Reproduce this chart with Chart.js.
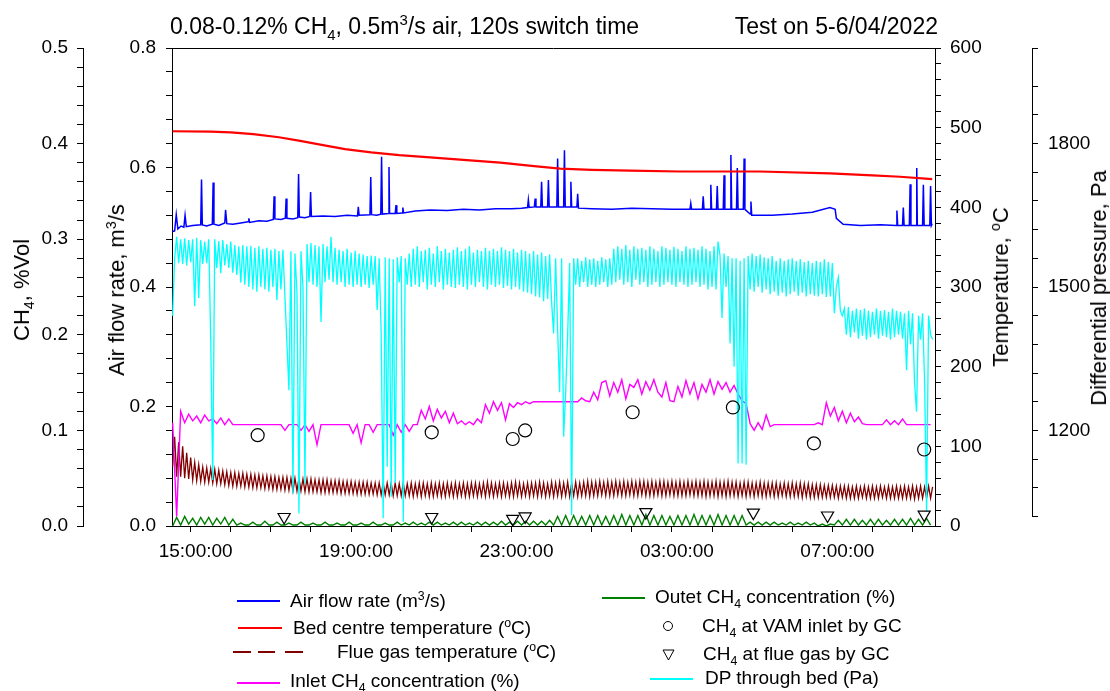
<!DOCTYPE html>
<html><head><meta charset="utf-8">
<script src="https://cdn.jsdelivr.net/npm/chart.js@4.4.1/dist/chart.umd.min.js"></script>
<style>
html,body{margin:0;padding:0;background:#fff;}
#wrap{position:relative;width:1110px;height:691px;font-family:"Liberation Sans",Arial,sans-serif;color:#000;overflow:hidden;}
canvas{position:absolute;left:0;top:0;}
.t{position:absolute;white-space:nowrap;line-height:22px;font-size:19px;}
.tt{position:absolute;white-space:nowrap;line-height:26px;font-size:23px;}
sub,sup{font-size:0.65em;line-height:0;}
.rot{position:absolute;white-space:nowrap;font-size:22px;line-height:26px;transform:translate(-50%,-50%) rotate(-90deg);}
.ln{position:absolute;height:2px;}
</style></head>
<body><div id="wrap">
<canvas id="c" width="1110" height="691"></canvas>
<div class="tt" style="left:170px;top:13px;">0.08-0.12% CH<sub>4</sub>, 0.5m<sup>3</sup>/s air, 120s switch time</div>
<div class="tt" style="right:172px;top:13px;">Test on 5-6/04/2022</div>
<div class="rot" style="left:22px;top:290px;">CH<sub>4</sub>, %Vol</div>
<div class="rot" style="left:117px;top:290px;">Air flow rate, m<sup>3</sup>/s</div>
<div class="rot" style="left:1001px;top:287px;">Temperature, <sup>o</sup>C</div>
<div class="rot" style="left:1099px;top:288px;">Differential pressure, Pa</div>

<div class="ln" style="left:237px;top:600px;width:43px;background:#0000ff;"></div>
<div class="t" style="left:290px;top:590px;">Air flow rate (m<sup>3</sup>/s)</div>
<div class="ln" style="left:238px;top:627px;width:44px;background:#ff0000;"></div>
<div class="t" style="left:293px;top:617px;">Bed centre temperature (<sup>o</sup>C)</div>
<div class="ln" style="left:233px;top:651px;width:18px;background:#800000;"></div>
<div class="ln" style="left:258px;top:651px;width:17px;background:#800000;"></div>
<div class="ln" style="left:285px;top:651px;width:18px;background:#800000;"></div>
<div class="t" style="left:337px;top:641px;">Flue gas temperature (<sup>o</sup>C)</div>
<div class="ln" style="left:237px;top:682px;width:43px;background:#ff00ff;"></div>
<div class="t" style="left:290px;top:670px;">Inlet CH<sub>4</sub> concentration (%)</div>

<div class="ln" style="left:602px;top:597px;width:43px;background:#008000;"></div>
<div class="t" style="left:655px;top:586px;">Outet CH<sub>4</sub> concentration (%)</div>
<div style="position:absolute;left:663px;top:621px;width:10px;height:10px;border:1px solid #000;border-radius:50%;box-sizing:border-box;"></div>
<div class="t" style="left:702px;top:615px;">CH<sub>4</sub> at VAM inlet by GC</div>
<svg style="position:absolute;left:662px;top:649px;" width="13" height="12"><polygon points="1,1 12,1 6.5,11" fill="none" stroke="#000" stroke-width="1"/></svg>
<div class="t" style="left:703px;top:643px;">CH<sub>4</sub> at flue gas by GC</div>
<div class="ln" style="left:650px;top:678px;width:43px;background:#00ffff;"></div>
<div class="t" style="left:705px;top:667px;">DP through bed (Pa)</div>
</div>
<script>
// ---------- data ----------
// Hour-of-day axis (hours since 00:00 on 5/04; 24+ = next day)
const timeMin = 14.534, timeMax = 33.56;
const timeMinorHours = [15,16,17,18,19,20,21,22,23,24,25,26,27,28,29,30,31,32,33];
const timeTickHours  = [15,19,23,27,31];
const timeTickLabels = ['15:00:00','19:00:00','23:00:00','03:00:00','07:00:00'];

const ch4TickValues  = [0,0.1,0.2,0.3,0.4,0.5];
const ch4TickLabels  = ['0.0','0.1','0.2','0.3','0.4','0.5'];
const airTickValues  = [0,0.2,0.4,0.6,0.8];
const airTickLabels  = ['0.0','0.2','0.4','0.6','0.8'];
const tempTickValues = [0,100,200,300,400,500,600];
const tempTickLabels = ['0','100','200','300','400','500','600'];
const dpTickValues   = [1200,1500,1800];
const dpTickLabels   = ['1200','1500','1800'];

// logged series: start hour and sampling interval (h)
const logStart = 14.55;
const fineStep = 0.05;   // DP and flue gas temperature
const coarseStep = 0.1;  // inlet / outlet CH4

// DP through bed (Pa), one row per hour
const dpValues = [
1440,1560,1605,1550,1600,1548,1602,1545,1598,1552,1600,1460,1603,1477,1598,1548,1595,1550,1600,1389,
1096,1600,1540,1596,1529,1598,1545,1590,1540,1595,1530,1588,1525,1585,1509,1588,1505,1585,1500,1586,
1495,1582,1490,1585,1500,1580,1495,1582,1490,1578,1500,1580,1473,1575,1495,1578,1480,1382,1284,1575,
1068,1570,1490,1026,1575,1500,1089,1590,1510,1592,1505,1588,1500,1585,1427,1590,1510,1585,1515,1605,
1510,1582,1505,1578,1510,1575,1500,1580,1505,1572,1500,1576,1505,1570,1500,1568,1505,1565,1498,1566,
1505,1565,1452,1560,1403,1016,1562,1124,1560,1061,1558,1090,1562,1510,1565,1009,1560,1505,1570,1500,
1580,1505,1585,1500,1575,1510,1578,1495,1582,1505,1570,1500,1585,1510,1575,1495,1580,1505,1572,1500,
1578,1498,1583,1505,1575,1500,1580,1495,1585,1505,1572,1500,1578,1510,1575,1500,1582,1495,1576,1505,
1580,1500,1575,1505,1583,1498,1578,1502,1575,1495,1580,1500,1572,1495,1578,1490,1575,1488,1570,1485,
1575,1480,1568,1478,1572,1470,1565,1475,1568,1468,1403,1560,1410,1280,1560,1187,1278,1400,1550,1023,
1560,1505,1560,1500,1555,1510,1562,1500,1558,1505,1560,1500,1555,1505,1562,1510,1558,1500,1560,1505,
1580,1510,1585,1515,1580,1505,1588,1510,1578,1500,1585,1515,1580,1505,1582,1510,1578,1500,1585,1505,
1580,1510,1575,1500,1585,1505,1582,1510,1578,1505,1584,1500,1580,1510,1575,1505,1585,1500,1580,1505,
1582,1510,1578,1500,1585,1505,1580,1495,1575,1500,1585,1495,1595,1565,1435,1570,1500,1565,1382,1560,
1333,1560,1131,1555,1131,1560,1128,1565,1495,1570,1490,1565,1500,1568,1488,1562,1495,1560,1485,1565,
1490,1555,1482,1560,1488,1555,1480,1558,1485,1560,1490,1555,1482,1558,1488,1552,1480,1555,1485,1550,
1482,1555,1480,1552,1485,1558,1479,1552,1480,1550,1445,1500,1520,1450,1440,1455,1400,1458,1395,1450,
1405,1455,1392,1452,1398,1455,1390,1450,1395,1448,1400,1455,1392,1450,1398,1452,1395,1448,1390,1455,
1395,1450,1400,1448,1392,1445,1326,1450,1380,1445,1300,1239,1440,1390,1445,1305,1030,1440,1400,1390];

// Flue gas temperature (degC), one row per hour
const flueTempValues = [
75,112,62,105,62,100,60,92,59,86,58,80,57,77,56,74,55,73,55,72,
54,71,53,70,53,69,52,68,51,67,50,67,50,66,50,66,49,65,49,65,
48,64,48,64,48,63,47,63,47,62,46,62,46,61,46,61,45,61,45,60,
44,60,44,60,44,59,43,59,43,59,43,58,43,58,42,58,42,58,42,57,
42,57,42,57,41,56,41,56,41,56,41,55,40,55,40,55,40,55,40,54,
40,54,39,54,39,54,39,54,39,54,38,54,38,53,38,54,38,53,38,54,
37,53,38,54,37,54,38,53,37,54,37,53,38,54,37,53,37,54,38,53,
37,54,37,53,38,54,37,53,37,54,38,54,37,53,38,54,37,55,38,54,
37,53,38,54,37,54,38,53,37,54,37,55,38,54,37,53,38,54,37,54,
38,54,37,55,38,54,37,53,38,55,37,54,38,55,37,54,38,55,37,54,
38,55,37,54,38,55,38,56,37,55,38,55,38,56,39,55,38,56,38,55,
38,56,39,55,38,56,38,55,39,56,38,55,38,56,39,56,38,55,38,56,
38,55,39,56,38,56,38,55,39,56,38,55,38,56,38,55,38,56,39,55,
38,56,38,55,38,56,37,55,38,55,38,56,37,55,38,55,37,56,38,55,
38,55,37,54,38,55,37,55,38,54,37,54,38,55,37,54,37,54,38,54,
37,54,37,53,38,54,37,53,37,54,37,53,37,54,36,53,37,53,36,52,
36,52,36,52,36,51,36,51,36,51,36,50,35,50,36,50,35,50,35,49,
35,50,35,49,36,50,35,49,35,50,35,49,35,50,36,49,35,50,35,49,
35,50,35,49,35,50,35,49,35,50,34,49,35,50,35,49,35,50,35,49];

// Outlet CH4 concentration (%)
const outletCH4Values = [
0.000,0.009,0.001,0.010,0.002,0.008,0.001,0.009,0.002,0.009,
0.001,0.008,0.002,0.009,0.001,0.007,0.001,0.003,0.001,0.001,
0.004,0.001,0.001,0.005,0.001,0.001,0.004,0.001,0.001,0.003,
0.001,0.001,0.004,0.001,0.001,0.003,0.001,0.001,0.004,0.001,
0.001,0.003,0.001,0.001,0.004,0.001,0.001,0.003,0.001,0.001,
0.004,0.001,0.001,0.003,0.001,0.001,0.004,0.001,0.003,0.001,
0.004,0.001,0.003,0.001,0.004,0.001,0.004,0.001,0.003,0.001,
0.004,0.001,0.004,0.001,0.003,0.001,0.004,0.001,0.004,0.001,
0.004,0.001,0.005,0.001,0.004,0.001,0.005,0.001,0.005,0.001,
0.005,0.001,0.005,0.001,0.006,0.001,0.010,0.001,0.011,0.001,
0.011,0.001,0.010,0.001,0.011,0.001,0.011,0.001,0.010,0.001,
0.011,0.001,0.012,0.001,0.011,0.001,0.011,0.001,0.012,0.001,
0.011,0.001,0.011,0.001,0.010,0.001,0.011,0.001,0.011,0.001,
0.012,0.001,0.011,0.001,0.011,0.001,0.012,0.001,0.011,0.001,
0.011,0.001,0.011,0.001,0.004,0.001,0.004,0.001,0.004,0.001,
0.004,0.001,0.003,0.001,0.004,0.001,0.003,0.001,0.004,0.001,
0.003,0.000,0.002,0.000,0.002,0.001,0.006,0.001,0.007,0.001,
0.007,0.001,0.006,0.001,0.007,0.001,0.007,0.001,0.006,0.001,
0.007,0.001,0.007,0.001,0.008,0.001,0.007,0.001,0.008,0.001];

// Inlet CH4 concentration (%)
const inletCH4Values = [
0.108,0.010,0.120,0.108,0.117,0.110,0.115,0.108,0.116,0.110,
0.112,0.107,0.113,0.106,0.112,0.106,0.106,0.106,0.106,0.106,
0.106,0.106,0.106,0.106,0.106,0.106,0.106,0.106,0.100,0.106,
0.106,0.106,0.100,0.106,0.099,0.106,0.085,0.106,0.106,0.106,
0.106,0.106,0.106,0.106,0.106,0.097,0.106,0.087,0.106,0.106,
0.098,0.106,0.106,0.106,0.106,0.095,0.106,0.098,0.106,0.099,
0.106,0.106,0.121,0.112,0.125,0.110,0.122,0.113,0.120,0.108,
0.118,0.107,0.110,0.106,0.109,0.106,0.112,0.108,0.127,0.118,
0.130,0.121,0.129,0.111,0.128,0.124,0.129,0.127,0.130,0.128,
0.130,0.130,0.130,0.130,0.130,0.130,0.130,0.130,0.130,0.130,
0.130,0.130,0.134,0.131,0.130,0.140,0.132,0.150,0.152,0.136,
0.150,0.140,0.153,0.133,0.148,0.145,0.153,0.138,0.151,0.142,
0.153,0.140,0.135,0.150,0.131,0.130,0.146,0.135,0.152,0.138,
0.150,0.133,0.148,0.140,0.153,0.138,0.151,0.143,0.150,0.140,
0.147,0.138,0.131,0.128,0.107,0.100,0.108,0.101,0.116,0.104,
0.106,0.106,0.106,0.106,0.106,0.106,0.106,0.106,0.106,0.106,
0.106,0.108,0.106,0.129,0.115,0.124,0.110,0.120,0.108,0.118,
0.109,0.114,0.107,0.106,0.106,0.106,0.106,0.106,0.111,0.106,
0.110,0.106,0.112,0.106,0.106,0.106,0.106,0.106,0.106,0.106];

// Air flow rate (m3/s): [hour, value]
const airFlowData = [
[14.55,0.493],[14.60,0.494],[14.64,0.521],[14.68,0.497],[14.76,0.502],[14.83,0.500],[14.86,0.520],[14.89,0.501],
[15.05,0.503],[15.25,0.504],[15.27,0.580],[15.29,0.504],[15.40,0.502],[15.54,0.505],[15.56,0.575],[15.58,0.505],
[15.70,0.503],[15.85,0.507],[15.87,0.529],[15.90,0.506],[16.05,0.505],[16.25,0.507],[16.43,0.509],[16.45,0.515],
[16.47,0.508],[16.70,0.511],[16.90,0.510],[17.06,0.513],[17.08,0.552],[17.10,0.514],[17.25,0.513],[17.36,0.515],
[17.38,0.548],[17.40,0.515],[17.55,0.514],[17.67,0.516],[17.69,0.589],[17.71,0.517],[17.85,0.516],[17.97,0.518],
[17.99,0.559],[18.01,0.518],[18.30,0.519],[18.60,0.518],[18.90,0.520],[19.16,0.519],[19.18,0.534],[19.20,0.520],
[19.47,0.521],[19.49,0.584],[19.51,0.521],[19.64,0.520],[19.74,0.522],[19.76,0.618],[19.78,0.522],[19.93,0.523],
[19.945,0.601],[19.96,0.523],[20.10,0.523],[20.12,0.537],[20.14,0.523],[20.27,0.524],[20.29,0.533],[20.31,0.524],
[20.60,0.527],[20.97,0.529],[21.40,0.528],[21.80,0.530],[22.20,0.529],[22.60,0.531],[23.00,0.531],[23.25,0.532],
[23.40,0.533],[23.42,0.546],[23.44,0.533],[23.57,0.534],[23.59,0.548],[23.61,0.534],[23.73,0.534],[23.75,0.576],
[23.77,0.534],[23.90,0.534],[23.92,0.579],[23.94,0.534],[24.13,0.534],[24.15,0.615],[24.17,0.534],[24.30,0.534],
[24.32,0.629],[24.34,0.534],[24.46,0.534],[24.48,0.576],[24.50,0.534],[24.63,0.534],[24.65,0.556],[24.67,0.532],
[25.00,0.531],[25.50,0.530],[26.00,0.532],[26.50,0.531],[27.00,0.530],[27.45,0.530],[27.47,0.540],[27.49,0.530],
[27.76,0.530],[27.78,0.552],[27.80,0.530],[27.95,0.530],[27.97,0.571],[27.99,0.530],[28.11,0.530],[28.13,0.569],
[28.15,0.530],[28.28,0.530],[28.30,0.587],[28.32,0.530],[28.45,0.530],[28.47,0.621],[28.49,0.530],[28.61,0.530],
[28.63,0.599],[28.65,0.530],[28.78,0.530],[28.80,0.615],[28.82,0.530],[28.95,0.522],[28.97,0.543],[28.99,0.520],
[29.50,0.520],[30.00,0.522],[30.50,0.525],[30.94,0.533],[31.07,0.530],[31.10,0.515],[31.27,0.505],[31.70,0.503],
[32.20,0.504],[32.59,0.503],[32.61,0.528],[32.63,0.503],[32.75,0.503],[32.77,0.533],[32.79,0.503],[32.92,0.503],
[32.94,0.572],[32.96,0.503],[33.09,0.503],[33.105,0.599],[33.12,0.503],[33.25,0.503],[33.27,0.571],[33.29,0.503],
[33.43,0.503],[33.45,0.569],[33.47,0.503],[33.49,0.506]];

// Bed centre temperature (degC): [hour, value]
const bedTempData = [
[14.55,495.5],[15.5,495],[16.0,494],[16.56,492],[17.2,488],[17.73,483.5],[18.3,478],[18.85,473],[19.5,469],
[20.2,465.5],[20.97,462.6],[21.8,459.5],[22.72,456],[23.5,452],[24.21,448.5],[25.0,447],[25.96,446],[27.2,445],
[29.19,445],[30.94,442.6],[32.0,440],[32.69,438.4],[33.49,435.5]];

// GC samples
const gcInletTime = [16.67,21.01,23.03,23.34,26.02,28.52,30.54,33.29];
const gcInletCH4  = [0.095,0.098,0.091,0.100,0.119,0.124,0.0865,0.080];
const gcFlueTime  = [17.33,21.01,23.03,23.34,26.35,29.03,30.88,33.29];
const gcFlueCH4   = [0.0094,0.0094,0.0075,0.0100,0.0145,0.0140,0.0110,0.0120];

// ---------- build ----------
const seqPts = (vals, step) => vals.map((v,i)=>({x: +(logStart + i*step).toFixed(3), y: v}));
const pairPts = arr => arr.map(([x,y])=>({x,y}));
const zipPts = (xs,ys) => xs.map((x,i)=>({x, y: ys[i]}));
function rangeTicks(min,max,step){const o=[];for(let k=0;min+k*step<=max+1e-9;k++)o.push({value:Math.round((min+k*step)*1e6)/1e6});return o;}
function labelFor(v, vals, labs){const k=vals.findIndex(t=>Math.abs(t-v)<1e-6);return k>=0?labs[k]:'';}

Chart.defaults.font.family = '"Liberation Sans", Arial, sans-serif';
Chart.defaults.font.size = 19;
Chart.defaults.color = '#000';

const gridOpt = {drawOnChartArea:false, drawTicks:true, tickLength:6, color:'#000', lineWidth:1};
const borderOpt = {display:true, color:'#000', width:1};

const frame = {
  id:'frame',
  afterDraw(chart){
    const {ctx, chartArea:a, scales} = chart;
    const dp = scales.yDP;
    ctx.save();
    ctx.strokeStyle='#000'; ctx.lineWidth=1;
    ctx.beginPath();
    ctx.moveTo(a.left, a.top+0.5); ctx.lineTo(a.right, a.top+0.5);
    const x = Math.round(dp.left)+0.5;
    ctx.moveTo(x, dp.getPixelForValue(2000)); ctx.lineTo(x, dp.getPixelForValue(1020));
    ctx.stroke();
    ctx.restore();
  }
};

new Chart(document.getElementById('c'), {
  type:'scatter',
  data:{datasets:[
    {label:'CH4 at VAM inlet by GC', data:zipPts(gcInletTime,gcInletCH4), yAxisID:'yCH4', showLine:false,
     pointStyle:'circle', pointRadius:6.5, borderColor:'#000', backgroundColor:'rgba(0,0,0,0)', borderWidth:1.2, order:0},
    {label:'CH4 at flue gas by GC', data:zipPts(gcFlueTime,gcFlueCH4), yAxisID:'yCH4', showLine:false,
     pointStyle:'triangle', rotation:180, pointRadius:7, borderColor:'#000', backgroundColor:'rgba(0,0,0,0)', borderWidth:1.2, order:1},
    {label:'Bed centre temperature', data:pairPts(bedTempData), yAxisID:'yTemp', showLine:true, pointRadius:0,
     borderColor:'#ff0000', borderWidth:2.2, order:2},
    {label:'DP through bed', data:seqPts(dpValues, fineStep), yAxisID:'yDP', showLine:true, pointRadius:0,
     borderColor:'#00ffff', borderWidth:1.3, order:3},
    {label:'Air flow rate', data:pairPts(airFlowData), yAxisID:'yAir', showLine:true, pointRadius:0,
     borderColor:'#0000ff', borderWidth:1.5, order:4},
    {label:'Inlet CH4 concentration', data:seqPts(inletCH4Values, coarseStep), yAxisID:'yCH4', showLine:true, pointRadius:0,
     borderColor:'#ff00ff', borderWidth:1.4, order:5},
    {label:'Flue gas temperature', data:seqPts(flueTempValues, fineStep), yAxisID:'yTemp', showLine:true, pointRadius:0,
     borderColor:'#800000', borderWidth:1.3, order:6},
    {label:'Outlet CH4 concentration', data:seqPts(outletCH4Values, coarseStep), yAxisID:'yCH4', showLine:true, pointRadius:0,
     borderColor:'#008000', borderWidth:1.4, order:7}
  ]},
  options:{
    responsive:false, animation:false, devicePixelRatio:1,
    layout:{padding:{top:48,bottom:125,left:0,right:0}},
    plugins:{legend:{display:false}, tooltip:{enabled:false}},
    scales:{
      x:{type:'linear', position:'bottom', min:timeMin, max:timeMax, bounds:'data',
        afterBuildTicks:s=>{s.ticks=timeMinorHours.map(v=>({value:v}));},
        ticks:{autoSkip:false, maxRotation:0, padding:8, labelOffset:5, callback:v=>labelFor(v,timeTickHours,timeTickLabels)},
        grid:gridOpt, border:borderOpt, afterFit:s=>{s.height=40;}},
      yAir:{type:'linear', position:'left', weight:0, min:0, max:0.8, bounds:'data',
        afterBuildTicks:s=>{s.ticks=rangeTicks(0,0.8,0.04);},
        ticks:{autoSkip:false, padding:10, callback:v=>labelFor(v,airTickValues,airTickLabels)},
        grid:gridOpt, border:borderOpt, afterFit:s=>{s.width=89;}},
      yCH4:{type:'linear', position:'left', weight:1, min:0, max:0.5, bounds:'data',
        afterBuildTicks:s=>{s.ticks=rangeTicks(0,0.5,0.02);},
        ticks:{autoSkip:false, padding:9, callback:v=>labelFor(v,ch4TickValues,ch4TickLabels)},
        grid:gridOpt, border:borderOpt, afterFit:s=>{s.width=83;}},
      yTemp:{type:'linear', position:'right', weight:0, min:0, max:600, bounds:'data',
        afterBuildTicks:s=>{s.ticks=rangeTicks(0,600,20);},
        ticks:{autoSkip:false, padding:9, callback:v=>labelFor(v,tempTickValues,tempTickLabels)},
        grid:gridOpt, border:borderOpt, afterFit:s=>{s.width=97;}},
      yDP:{type:'linear', position:'right', weight:1, min:1000, max:2000, bounds:'data',
        afterBuildTicks:s=>{s.ticks=rangeTicks(1020,1920,60).concat([{value:2000}]);},
        ticks:{autoSkip:false, padding:10, callback:v=>labelFor(v,dpTickValues,dpTickLabels)},
        grid:gridOpt, border:{display:false}, afterFit:s=>{s.width=78;}}
    }
  },
  plugins:[frame]
});
</script>
</body></html>
